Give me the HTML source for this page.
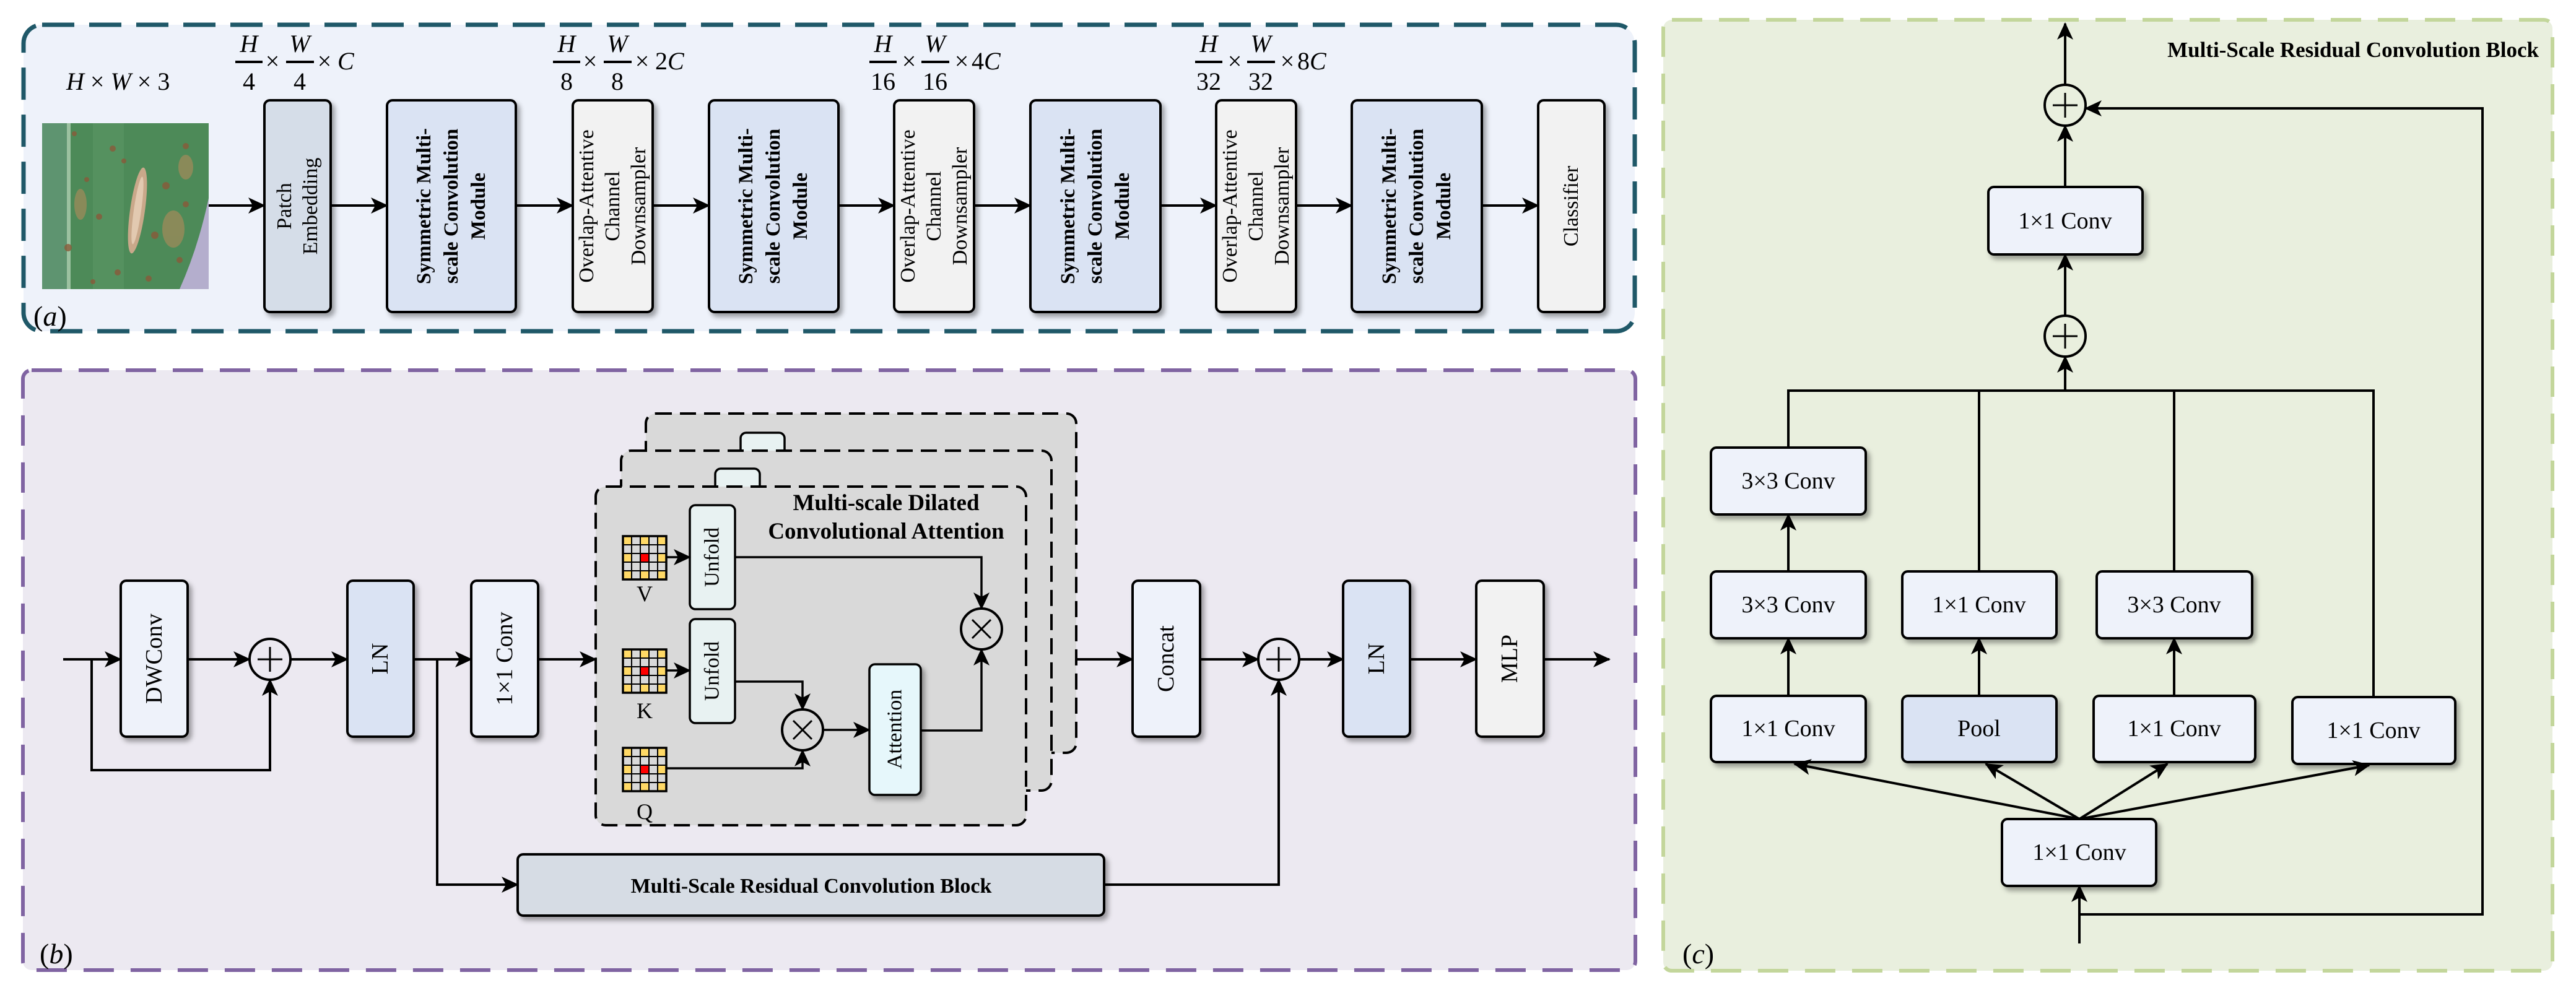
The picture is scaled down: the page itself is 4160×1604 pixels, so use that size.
<!DOCTYPE html>
<html><head><meta charset="utf-8"><style>
html,body{margin:0;padding:0;background:#fff;}
svg{display:block;}
text{font-family:"Liberation Serif",serif;fill:#000;}
</style></head><body>
<svg width="4160" height="1604" viewBox="0 0 4160 1604" xmlns="http://www.w3.org/2000/svg">
<defs>
<marker id="ah" markerUnits="userSpaceOnUse" markerWidth="30" markerHeight="26" refX="26" refY="13" orient="auto">
<path d="M0,0 L28,13 L0,26 L7,13 Z" fill="#000"/>
</marker>
<filter id="sh" x="-20%" y="-20%" width="150%" height="150%">
<feDropShadow dx="5" dy="6" stdDeviation="4" flood-color="#000" flood-opacity="0.35"/>
</filter>
<g id="grid">
<rect x="0" y="0" width="70" height="70" fill="#d9d9d9"/>
<g fill="#ffd966">
<rect x="0" y="0" width="14" height="14"/><rect x="28" y="0" width="14" height="14"/><rect x="56" y="0" width="14" height="14"/>
<rect x="0" y="28" width="14" height="14"/><rect x="56" y="28" width="14" height="14"/>
<rect x="0" y="56" width="14" height="14"/><rect x="28" y="56" width="14" height="14"/><rect x="56" y="56" width="14" height="14"/>
</g>
<rect x="28" y="28" width="14" height="14" fill="#ff0000"/>
<g stroke="#000" stroke-width="2">
<line x1="14" y1="0" x2="14" y2="70"/><line x1="28" y1="0" x2="28" y2="70"/><line x1="42" y1="0" x2="42" y2="70"/><line x1="56" y1="0" x2="56" y2="70"/>
<line x1="0" y1="14" x2="70" y2="14"/><line x1="0" y1="28" x2="70" y2="28"/><line x1="0" y1="42" x2="70" y2="42"/><line x1="0" y1="56" x2="70" y2="56"/>
</g>
<rect x="0" y="0" width="70" height="70" fill="none" stroke="#000" stroke-width="3.5"/>
</g>
<g id="plus"><circle r="33" fill="none" stroke="#000" stroke-width="4"/><line x1="-20" y1="0" x2="20" y2="0" stroke="#000" stroke-width="3"/><line x1="0" y1="-20" x2="0" y2="20" stroke="#000" stroke-width="3"/></g>
<g id="mul"><circle r="33" fill="none" stroke="#000" stroke-width="4"/><line x1="-15" y1="-15" x2="15" y2="15" stroke="#000" stroke-width="3"/><line x1="-15" y1="15" x2="15" y2="-15" stroke="#000" stroke-width="3"/></g>
</defs>

<!-- ================= PANEL A ================= -->
<rect x="38" y="40" width="2602" height="495" rx="30" fill="#eef2fa" stroke="#1f5868" stroke-width="7" stroke-dasharray="52 24"/>

<!-- leaf image -->
<g>
<rect x="68" y="199" width="269" height="268" fill="#4d8a58"/>
<rect x="68" y="199" width="40" height="268" fill="#5e9470"/>
<rect x="108" y="199" width="6" height="268" fill="#9cc1a0"/>
<rect x="150" y="199" width="50" height="268" fill="#55915f"/>
<ellipse cx="222" cy="340" rx="12" ry="70" fill="#c9a88a" transform="rotate(8 222 340)"/>
<ellipse cx="222" cy="340" rx="6" ry="55" fill="#e2c9b0" transform="rotate(8 222 340)"/>
<g fill="#8a5a3a" opacity="0.8">
<circle cx="120" cy="216" r="4"/><circle cx="182" cy="240" r="5"/><circle cx="300" cy="236" r="5"/><circle cx="140" cy="290" r="4"/><circle cx="268" cy="300" r="6"/><circle cx="300" cy="330" r="5"/><circle cx="160" cy="350" r="5"/><circle cx="110" cy="400" r="6"/><circle cx="250" cy="380" r="6"/><circle cx="290" cy="420" r="5"/><circle cx="190" cy="440" r="5"/><circle cx="150" cy="455" r="4"/><circle cx="240" cy="450" r="5"/><circle cx="200" cy="260" r="4"/>
</g>
<g fill="#b38a5a" opacity="0.6">
<ellipse cx="280" cy="370" rx="18" ry="30"/><ellipse cx="130" cy="330" rx="10" ry="25"/><ellipse cx="300" cy="270" rx="12" ry="20"/>
</g>
<path d="M337,320 Q320,400 290,467 L337,467 Z" fill="#b4aecd"/>
</g>

<!-- formula labels -->
<text x="107" y="145" font-size="40"><tspan font-style="italic">H</tspan> × <tspan font-style="italic">W</tspan> × 3</text>

<g font-size="40" text-anchor="middle">
<!-- frac1 at 380 -->
<g transform="translate(380,0)">
<text x="22" y="84" font-style="italic">H</text><line x1="0" y1="100" x2="44" y2="100" stroke="#000" stroke-width="4"/><text x="22" y="145">4</text>
<text x="60" y="112">×</text>
<text x="104" y="84" font-style="italic">W</text><line x1="82" y1="100" x2="127" y2="100" stroke="#000" stroke-width="4"/><text x="104" y="145">4</text>
<text x="144" y="112">×</text>
<text x="165" y="112" text-anchor="start" font-style="italic">C</text>
</g>
<g transform="translate(893,0)">
<text x="22" y="84" font-style="italic">H</text><line x1="0" y1="100" x2="44" y2="100" stroke="#000" stroke-width="4"/><text x="22" y="145">8</text>
<text x="60" y="112">×</text>
<text x="104" y="84" font-style="italic">W</text><line x1="82" y1="100" x2="127" y2="100" stroke="#000" stroke-width="4"/><text x="104" y="145">8</text>
<text x="144" y="112">×</text>
<text x="165" y="112" text-anchor="start">2<tspan font-style="italic">C</tspan></text>
</g>
<g transform="translate(1404,0)">
<text x="22" y="84" font-style="italic">H</text><line x1="0" y1="100" x2="44" y2="100" stroke="#000" stroke-width="4"/><text x="22" y="145">16</text>
<text x="64" y="112">×</text>
<text x="106" y="84" font-style="italic">W</text><line x1="84" y1="100" x2="129" y2="100" stroke="#000" stroke-width="4"/><text x="106" y="145">16</text>
<text x="149" y="112">×</text>
<text x="165" y="112" text-anchor="start">4<tspan font-style="italic">C</tspan></text>
</g>
<g transform="translate(1930,0)">
<text x="22" y="84" font-style="italic">H</text><line x1="0" y1="100" x2="44" y2="100" stroke="#000" stroke-width="4"/><text x="22" y="145">32</text>
<text x="64" y="112">×</text>
<text x="106" y="84" font-style="italic">W</text><line x1="84" y1="100" x2="129" y2="100" stroke="#000" stroke-width="4"/><text x="106" y="145">32</text>
<text x="149" y="112">×</text>
<text x="165" y="112" text-anchor="start">8<tspan font-style="italic">C</tspan></text>
</g>
</g>

<!-- panel a boxes -->
<g stroke="#000" stroke-width="4" filter="url(#sh)">
<rect x="427" y="162" width="107" height="342" rx="9" fill="#d5dde8"/>
<rect x="625" y="162" width="208" height="342" rx="9" fill="#dae3f3"/>
<rect x="925" y="162" width="129" height="342" rx="9" fill="#f2f2f2"/>
<rect x="1145" y="162" width="209" height="342" rx="9" fill="#dae3f3"/>
<rect x="1444" y="162" width="129" height="342" rx="9" fill="#f2f2f2"/>
<rect x="1664" y="162" width="210" height="342" rx="9" fill="#dae3f3"/>
<rect x="1964" y="162" width="129" height="342" rx="9" fill="#f2f2f2"/>
<rect x="2183" y="162" width="210" height="342" rx="9" fill="#dae3f3"/>
<rect x="2484" y="162" width="107" height="342" rx="9" fill="#f2f2f2"/>
</g>
<g font-size="34" text-anchor="middle" dominant-baseline="central">
<text transform="translate(480,333) rotate(-90)"><tspan x="0" y="-21">Patch</tspan><tspan x="0" y="21">Embedding</tspan></text>
<text transform="translate(2537,333) rotate(-90)"><tspan x="0" y="0">Classifier</tspan></text>
<g>
<text transform="translate(989,333) rotate(-90)"><tspan x="0" y="-42">Overlap-Attentive</tspan><tspan x="0" y="0">Channel</tspan><tspan x="0" y="42">Downsampler</tspan></text>
<text transform="translate(1508,333) rotate(-90)"><tspan x="0" y="-42">Overlap-Attentive</tspan><tspan x="0" y="0">Channel</tspan><tspan x="0" y="42">Downsampler</tspan></text>
<text transform="translate(2028,333) rotate(-90)"><tspan x="0" y="-42">Overlap-Attentive</tspan><tspan x="0" y="0">Channel</tspan><tspan x="0" y="42">Downsampler</tspan></text>
</g>
<g font-weight="bold" font-size="33">
<text transform="translate(729,333) rotate(-90)"><tspan x="0" y="-44">Symmetric Multi-</tspan><tspan x="0" y="0">scale Convolution</tspan><tspan x="0" y="44">Module</tspan></text>
<text transform="translate(1249,333) rotate(-90)"><tspan x="0" y="-44">Symmetric Multi-</tspan><tspan x="0" y="0">scale Convolution</tspan><tspan x="0" y="44">Module</tspan></text>
<text transform="translate(1769,333) rotate(-90)"><tspan x="0" y="-44">Symmetric Multi-</tspan><tspan x="0" y="0">scale Convolution</tspan><tspan x="0" y="44">Module</tspan></text>
<text transform="translate(2288,333) rotate(-90)"><tspan x="0" y="-44">Symmetric Multi-</tspan><tspan x="0" y="0">scale Convolution</tspan><tspan x="0" y="44">Module</tspan></text>
</g>
</g>
<g stroke="#000" stroke-width="4" marker-end="url(#ah)">
<line x1="337" y1="332" x2="427" y2="332"/>
<line x1="534" y1="332" x2="625" y2="332"/>
<line x1="833" y1="332" x2="925" y2="332"/>
<line x1="1054" y1="332" x2="1145" y2="332"/>
<line x1="1354" y1="332" x2="1444" y2="332"/>
<line x1="1573" y1="332" x2="1664" y2="332"/>
<line x1="1874" y1="332" x2="1964" y2="332"/>
<line x1="2093" y1="332" x2="2183" y2="332"/>
<line x1="2393" y1="332" x2="2484" y2="332"/>
</g>
<text x="54" y="526" font-size="46">(<tspan font-style="italic">a</tspan>)</text>

<!-- ================= PANEL B ================= -->
<rect x="37" y="598" width="2604" height="969" rx="14" fill="#ece9f1" stroke="#8064a2" stroke-width="6" stroke-dasharray="49 27"/>

<!-- stacked dashed boxes -->
<rect x="1043" y="668" width="695" height="548" rx="16" fill="#d9d9d9" stroke="#000" stroke-width="4" stroke-dasharray="26 13"/>
<rect x="1196" y="699" width="71" height="60" rx="9" fill="#e8f2f2" stroke="#000" stroke-width="3.5"/>
<rect x="1003" y="728" width="695" height="549" rx="16" fill="#d9d9d9" stroke="#000" stroke-width="4" stroke-dasharray="26 13"/>
<rect x="1155" y="757" width="72" height="60" rx="9" fill="#e8f2f2" stroke="#000" stroke-width="3.5"/>
<rect x="962" y="786" width="695" height="547" rx="16" fill="#d9d9d9" stroke="#000" stroke-width="4" stroke-dasharray="26 13"/>

<text x="1431" y="824" font-size="37" font-weight="bold" text-anchor="middle">Multi-scale Dilated</text>
<text x="1431" y="870" font-size="37" font-weight="bold" text-anchor="middle">Convolutional Attention</text>

<use href="#grid" x="1006" y="866"/>
<use href="#grid" x="1006" y="1049"/>
<use href="#grid" x="1006" y="1208"/>
<g font-size="36" text-anchor="middle">
<text x="1041" y="971">V</text><text x="1041" y="1160">K</text><text x="1041" y="1323">Q</text>
</g>

<g stroke="#000" stroke-width="3.5">
<rect x="1114" y="816" width="73" height="168" rx="9" fill="#e8f2f2"/>
<rect x="1114" y="1000" width="73" height="168" rx="9" fill="#e8f2f2"/>
</g>
<rect x="1404" y="1073" width="83" height="211" rx="9" fill="#e6f7fb" stroke="#000" stroke-width="3.5" filter="url(#sh)"/>
<g font-size="34" text-anchor="middle" dominant-baseline="central">
<text transform="translate(1150,900) rotate(-90)">Unfold</text>
<text transform="translate(1150,1084) rotate(-90)">Unfold</text>
<text transform="translate(1445,1178) rotate(-90)">Attention</text>
</g>
<use href="#mul" x="1296" y="1179"/>
<use href="#mul" x="1585" y="1016"/>
<g stroke="#000" stroke-width="3.5" fill="none" marker-end="url(#ah)">
<line x1="1076" y1="900" x2="1114" y2="900"/>
<line x1="1076" y1="1083" x2="1114" y2="1083"/>
<polyline points="1187,900 1585,900 1585,983"/>
<polyline points="1187,1101 1296,1101 1296,1146"/>
<polyline points="1076,1241 1296,1241 1296,1212"/>
<line x1="1329" y1="1179" x2="1404" y2="1179"/>
<polyline points="1487,1180 1585,1180 1585,1049"/>
</g>

<!-- b boxes -->
<g stroke="#000" stroke-width="4" filter="url(#sh)">
<rect x="195" y="938" width="108" height="252" rx="9" fill="#eef2fa"/>
<rect x="561" y="938" width="107" height="252" rx="9" fill="#dae3f3"/>
<rect x="761" y="938" width="108" height="252" rx="9" fill="#eef2fa"/>
<rect x="1829" y="938" width="109" height="252" rx="9" fill="#eef2fa"/>
<rect x="2169" y="938" width="108" height="252" rx="9" fill="#dae3f3"/>
<rect x="2384" y="938" width="109" height="252" rx="9" fill="#f2f2f2"/>
<rect x="836" y="1380" width="947" height="99" rx="9" fill="#d6dce4"/>
</g>
<g font-size="38" text-anchor="middle" dominant-baseline="central">
<text transform="translate(249,1064) rotate(-90)">DWConv</text>
<text transform="translate(614,1064) rotate(-90)">LN</text>
<text transform="translate(815,1064) rotate(-90)">1×1 Conv</text>
<text transform="translate(1883,1064) rotate(-90)">Concat</text>
<text transform="translate(2223,1064) rotate(-90)">LN</text>
<text transform="translate(2438,1064) rotate(-90)">MLP</text>
</g>
<text x="1310" y="1442" font-size="34" font-weight="bold" text-anchor="middle">Multi-Scale Residual Convolution Block</text>
<use href="#plus" x="436" y="1065"/>
<use href="#plus" x="2065" y="1065"/>
<g stroke="#000" stroke-width="4" fill="none">
<line x1="102" y1="1065" x2="148" y2="1065"/>
<polyline points="148,1065 148,1244 436,1244 436,1098" marker-end="url(#ah)"/>
<line x1="148" y1="1065" x2="195" y2="1065" marker-end="url(#ah)"/>
<line x1="303" y1="1065" x2="403" y2="1065" marker-end="url(#ah)"/>
<line x1="469" y1="1065" x2="561" y2="1065" marker-end="url(#ah)"/>
<line x1="668" y1="1065" x2="761" y2="1065" marker-end="url(#ah)"/>
<polyline points="706,1065 706,1429 836,1429" marker-end="url(#ah)"/>
<line x1="869" y1="1065" x2="962" y2="1065" marker-end="url(#ah)"/>
<line x1="1738" y1="1065" x2="1829" y2="1065" marker-end="url(#ah)"/>
<line x1="1938" y1="1065" x2="2032" y2="1065" marker-end="url(#ah)"/>
<polyline points="1783,1429 2065,1429 2065,1098" marker-end="url(#ah)"/>
<line x1="2098" y1="1065" x2="2169" y2="1065" marker-end="url(#ah)"/>
<line x1="2277" y1="1065" x2="2384" y2="1065" marker-end="url(#ah)"/>
<line x1="2493" y1="1065" x2="2599" y2="1065" marker-end="url(#ah)"/>
</g>
<text x="64" y="1556" font-size="46">(<tspan font-style="italic">b</tspan>)</text>

<!-- ================= PANEL C ================= -->
<rect x="2686" y="32" width="1436" height="1536" rx="14" fill="#e9efde" stroke="#c3d69b" stroke-width="6" stroke-dasharray="49 27"/>
<text x="4100" y="92" font-size="35" font-weight="bold" text-anchor="end">Multi-Scale Residual Convolution Block</text>

<g stroke="#000" stroke-width="4" filter="url(#sh)">
<rect x="3211" y="302" width="249" height="109" rx="9" fill="#eef2fa"/>
<rect x="2763" y="723" width="250" height="108" rx="9" fill="#eef2fa"/>
<rect x="2763" y="923" width="250" height="108" rx="9" fill="#eef2fa"/>
<rect x="3072" y="923" width="249" height="108" rx="9" fill="#eef2fa"/>
<rect x="3386" y="923" width="251" height="108" rx="9" fill="#eef2fa"/>
<rect x="2763" y="1124" width="250" height="107" rx="9" fill="#eef2fa"/>
<rect x="3072" y="1124" width="249" height="107" rx="9" fill="#dae3f3"/>
<rect x="3381" y="1124" width="261" height="107" rx="9" fill="#eef2fa"/>
<rect x="3702" y="1126" width="263" height="108" rx="9" fill="#eef2fa"/>
<rect x="3233" y="1323" width="249" height="108" rx="9" fill="#eef2fa"/>
</g>
<g font-size="38" text-anchor="middle" dominant-baseline="central">
<text x="3335" y="357">1×1 Conv</text>
<text x="2888" y="777">3×3 Conv</text>
<text x="2888" y="977">3×3 Conv</text>
<text x="3196" y="977">1×1 Conv</text>
<text x="3511" y="977">3×3 Conv</text>
<text x="2888" y="1177">1×1 Conv</text>
<text x="3196" y="1177">Pool</text>
<text x="3511" y="1177">1×1 Conv</text>
<text x="3833" y="1180">1×1 Conv</text>
<text x="3358" y="1377">1×1 Conv</text>
</g>
<use href="#plus" x="3335" y="170"/>
<use href="#plus" x="3335" y="543"/>
<g stroke="#000" stroke-width="4" fill="none">
<line x1="3335" y1="137" x2="3335" y2="38" marker-end="url(#ah)"/>
<line x1="3335" y1="302" x2="3335" y2="203" marker-end="url(#ah)"/>
<line x1="3335" y1="510" x2="3335" y2="411" marker-end="url(#ah)"/>
<line x1="3335" y1="631" x2="3335" y2="576" marker-end="url(#ah)"/>
<polyline points="2888,723 2888,631 3833,631 3833,1126"/>
<line x1="3196" y1="631" x2="3196" y2="923"/>
<line x1="3511" y1="631" x2="3511" y2="923"/>
<line x1="2888" y1="923" x2="2888" y2="831" marker-end="url(#ah)"/>
<line x1="2888" y1="1124" x2="2888" y2="1031" marker-end="url(#ah)"/>
<line x1="3196" y1="1124" x2="3196" y2="1031" marker-end="url(#ah)"/>
<line x1="3511" y1="1124" x2="3511" y2="1031" marker-end="url(#ah)"/>
<line x1="3358" y1="1323" x2="2898" y2="1234" marker-end="url(#ah)"/>
<line x1="3358" y1="1323" x2="3207" y2="1234" marker-end="url(#ah)"/>
<line x1="3358" y1="1323" x2="3500" y2="1234" marker-end="url(#ah)"/>
<line x1="3358" y1="1323" x2="3826" y2="1236" marker-end="url(#ah)"/>
<line x1="3358" y1="1524" x2="3358" y2="1431" marker-end="url(#ah)"/>
<polyline points="3358,1477 4009,1477 4009,175 3368,175" marker-end="url(#ah)"/>
</g>
<text x="2717" y="1556" font-size="46">(<tspan font-style="italic">c</tspan>)</text>
</svg>
</body></html>
